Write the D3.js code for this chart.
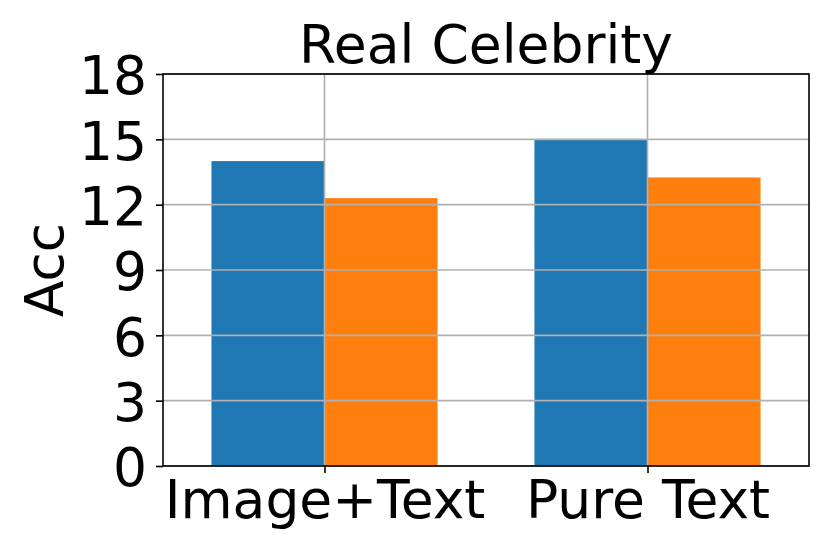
<!DOCTYPE html>
<html>
<head>
<meta charset="utf-8">
<script src="https://cdn.jsdelivr.net/npm/d3@7"></script>
<style>
  body { margin: 0; background: #fff; }
  text { font-family: "DejaVu Sans", sans-serif; fill: #000; }
</style>
</head>
<body>
<div id="chart"></div>
<script>
// data
var categories = ["Image+Text", "Pure Text"];
var seriesA = [14.0, 15.0];   // blue
var seriesB = [12.3, 13.25];  // orange
var yTicks = [0, 3, 6, 9, 12, 15, 18];
var title = "Real Celebrity";
var yLabel = "Acc";

var svgWidth = 830;
var svgHeight = 554;

var margin = { top: 74, right: 21, bottom: 88, left: 163 };
var width = svgWidth - margin.left - margin.right;
var height = svgHeight - margin.top - margin.bottom;

var barWidth = 0.35;
var fontSize = 53.5;

var svg = d3.select("#chart")
  .append("svg")
  .attr("width", svgWidth)
  .attr("height", svgHeight);

var chartGroup = svg.append("g")
  .attr("transform", `translate(${margin.left}, ${margin.top})`);

var xScale = d3.scaleLinear()
  .domain([-0.5, categories.length - 0.5])
  .range([0, width]);

var yScale = d3.scaleLinear()
  .domain([0, 18])
  .range([height, 0]);

// bars
var bars = [];
categories.forEach(function(c, i) {
  bars.push({ x0: i - barWidth, x1: i, v: seriesA[i], color: "#1f77b4" });
  bars.push({ x0: i, x1: i + barWidth, v: seriesB[i], color: "#ff7f0e" });
});

chartGroup.selectAll("rect.bar")
  .data(bars)
  .enter()
  .append("rect")
  .attr("class", "bar")
  .attr("x", d => xScale(d.x0))
  .attr("width", d => xScale(d.x1) - xScale(d.x0))
  .attr("y", d => yScale(d.v))
  .attr("height", d => yScale(0) - yScale(d.v))
  .attr("fill", d => d.color);

// grid lines (drawn over the bars)
chartGroup.selectAll("line.hgrid")
  .data(yTicks)
  .enter()
  .append("line")
  .attr("x1", 0)
  .attr("x2", width)
  .attr("y1", d => yScale(d))
  .attr("y2", d => yScale(d))
  .attr("stroke", "#b0b0b0")
  .attr("stroke-width", 1.6);

chartGroup.selectAll("line.vgrid")
  .data(categories)
  .enter()
  .append("line")
  .attr("x1", (d, i) => xScale(i))
  .attr("x2", (d, i) => xScale(i))
  .attr("y1", 0)
  .attr("y2", height)
  .attr("stroke", "#b0b0b0")
  .attr("stroke-width", 1.6);

// axes
var leftAxis = d3.axisLeft(yScale)
  .tickValues(yTicks)
  .tickSize(7)
  .tickPadding(9)
  .tickSizeOuter(0);

var bottomAxis = d3.axisBottom(xScale)
  .tickValues(d3.range(categories.length))
  .tickFormat(i => categories[i])
  .tickSize(7)
  .tickPadding(6)
  .tickSizeOuter(0);

var yAxisG = chartGroup.append("g").call(leftAxis);
var xAxisG = chartGroup.append("g")
  .attr("transform", `translate(0, ${height})`)
  .call(bottomAxis);

[yAxisG, xAxisG].forEach(function(g) {
  g.select(".domain").remove();
  g.selectAll(".tick line").attr("stroke", "#000").attr("stroke-width", 1.6);
  g.selectAll(".tick text")
    .style("font-family", "DejaVu Sans")
    .style("font-size", fontSize + "px")
    .attr("fill", "#000");
});
yAxisG.selectAll(".tick text").attr("dy", "0.37em");
xAxisG.selectAll(".tick text").attr("dy", "0.72em");

// frame
chartGroup.append("rect")
  .attr("x", 0)
  .attr("y", 0)
  .attr("width", width)
  .attr("height", height)
  .attr("fill", "none")
  .attr("stroke", "#000")
  .attr("stroke-width", 1.6);

// title
svg.append("text")
  .attr("x", margin.left + width / 2)
  .attr("y", 63)
  .attr("text-anchor", "middle")
  .style("font-size", fontSize + "px")
  .text(title);

// y label
svg.append("text")
  .attr("transform", `translate(63, ${margin.top + height / 2}) rotate(-90)`)
  .attr("text-anchor", "middle")
  .style("font-size", fontSize + "px")
  .text(yLabel);
</script>
</body>
</html>
